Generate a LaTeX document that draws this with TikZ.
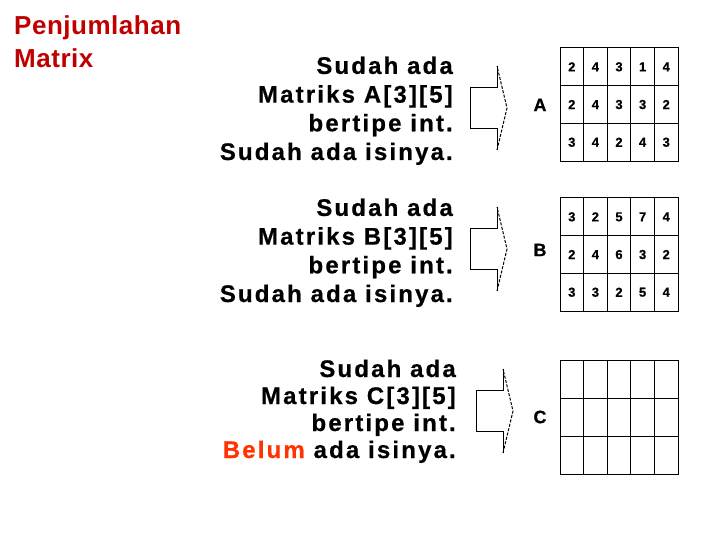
\documentclass[tikz,border=0pt]{standalone}
\usepackage{fontspec}
\setmainfont{Liberation Sans}
\newfontfamily\slidefont{Liberation Sans}[LetterSpace=9, FakeBold=0.6]
\newfontfamily\titlefont{Liberation Sans}[LetterSpace=2]
\usetikzlibrary{calc}

\definecolor{titleRed}{RGB}{192,0,0}
\definecolor{belumRed}{RGB}{255,51,0}

\tikzset{
	infoText/.style = {font = \slidefont\bfseries\fontsize{24}{28.7}\selectfont, align = right, inner sep = 0pt, anchor = base east},
	cell/.style = {draw, line width = 1pt, minimum width = 23.6pt, minimum height = 37.7pt, inner sep = 0pt, font = \slidefont\bfseries\fontsize{13}{14}\selectfont},
	matrixLabel/.style = {font = \slidefont\bfseries\fontsize{18}{20}\selectfont, inner sep = 0pt},
	arrowLine/.style = {line width = 1pt},
}

\begin{document}
\begin{tikzpicture}[x = 1pt, y = -1pt]

	\useasboundingbox (0,0) rectangle (720,540);

	% title
	\node [font = \titlefont\bfseries\fontsize{26}{33}\selectfont, text = titleRed, align = left, anchor = base west, inner sep = 0pt] (title) at (14,68) {Penjumlahan\\Matrix};

	% descriptions
	\node [infoText] (textA) at (453,160) {Sudah ada\\Matriks A[3][5]\\bertipe int.\\Sudah ada isinya.};
	\node [infoText] (textB) at (453,302) {Sudah ada\\Matriks B[3][5]\\bertipe int.\\Sudah ada isinya.};
	\node [infoText, font = \slidefont\bfseries\fontsize{24}{27}\selectfont] (textC) at (456,458) {Sudah ada\\Matriks C[3][5]\\bertipe int.\\\textcolor{belumRed}{Belum} ada isinya.};

	% block arrows
	\foreach \arrowX/\arrowY in {470/108, 470/249, 476/411} {
		\draw [arrowLine] (\arrowX + 27, \arrowY - 42) -- (\arrowX + 27, \arrowY - 20.5) -- (\arrowX, \arrowY - 20.5) -- (\arrowX, \arrowY + 20.5) -- (\arrowX + 27, \arrowY + 20.5) -- (\arrowX + 27, \arrowY + 42);
		\draw [arrowLine, dashed, dash pattern = on 3pt off 1.5pt] (\arrowX + 27, \arrowY + 42) -- (\arrowX + 37, \arrowY) -- (\arrowX + 27, \arrowY - 42);
	}

	% matrix names
	\node [matrixLabel] (labelA) at (540,105) {A};
	\node [matrixLabel] (labelB) at (540,250) {B};
	\node [matrixLabel] (labelC) at (540,417) {C};

	% matrix cells
	\def \cellW {23.6};
	\def \cellH {37.7};
	\def \matLeft {560};

	%% matrix A
	\foreach \row [count = \r] in {{2,4,3,1,4},{2,4,3,3,2},{3,4,2,4,3}} {
		\foreach \val [count = \c] in \row {
			\node [cell] (A-\r-\c) at ({\matLeft + (\c - 0.5) * \cellW}, {48 + (\r - 0.5) * \cellH}) {\val};
		}
	}

	%% matrix B
	\foreach \row [count = \r] in {{3,2,5,7,4},{2,4,6,3,2},{3,3,2,5,4}} {
		\foreach \val [count = \c] in \row {
			\node [cell] (B-\r-\c) at ({\matLeft + (\c - 0.5) * \cellW}, {198 + (\r - 0.5) * \cellH}) {\val};
		}
	}

	%% matrix C (still empty)
	\foreach \r in {1,...,3} {
		\foreach \c in {1,...,5} {
			\node [cell, minimum height = 38pt] (C-\r-\c) at ({\matLeft + (\c - 0.5) * \cellW}, {360 + (\r - 0.5) * 38}) {};
		}
	}

\end{tikzpicture}
\end{document}
